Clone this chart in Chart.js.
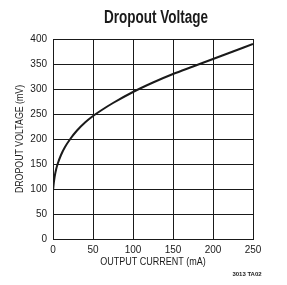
<!DOCTYPE html>
<html>
<head>
<meta charset="utf-8">
<script src="https://cdn.jsdelivr.net/npm/chart.js@4"></script>
<style>
  html, body { margin: 0; padding: 0; background: #fff; }
  #wrap { width: 287px; height: 285px; position: relative; }
</style>
</head>
<body>
<div id="wrap"><canvas id="chart" width="287" height="285"></canvas></div>
<script>
// Data
const currentMA = [0, 1, 2, 4, 6, 10, 15, 22, 30, 40, 50, 60, 75, 100, 125, 150, 175, 200, 225, 250];
const dropoutMV = [96, 112, 124, 140, 151, 168, 184, 201, 217, 233, 246, 257, 272, 294, 313, 330, 345, 360, 375, 390];
const xTicks = [0, 50, 100, 150, 200, 250];
const yTicks = [0, 50, 100, 150, 200, 250, 300, 350, 400];

const FONT = "'Liberation Sans', Arial, sans-serif";
const INK = '#1a1a1a';

// draws condensed text (no narrow font installed)
function squeezed(ctx, text, x, y, sx, rot) {
    ctx.save();
    ctx.translate(x, y);
    if (rot) ctx.rotate(rot);
    ctx.scale(sx, 1);
    ctx.fillText(text, 0, 0);
    ctx.restore();
}

// title, axis titles and footnote drawn on top
const textPlugin = {
    id: 'texts',
    afterDraw(chart) {
        const ctx = chart.ctx;
        const a = chart.chartArea;
        ctx.save();
        ctx.fillStyle = INK;
        ctx.textAlign = 'center';
        ctx.textBaseline = 'middle';
        ctx.font = "bold 18px " + FONT;
        squeezed(ctx, 'Dropout Voltage', 156, 18, 0.75);
        ctx.font = "11px " + FONT;
        squeezed(ctx, 'OUTPUT CURRENT (mA)', (a.left + a.right) / 2, 262, 0.82);
        squeezed(ctx, 'DROPOUT VOLTAGE (mV)', 20, (a.top + a.bottom) / 2, 0.8, -Math.PI / 2);
        ctx.font = "bold 6px " + FONT;
        ctx.fillText('3013 TA02', 247, 274);
        ctx.restore();
    }
};

new Chart(document.getElementById('chart'), {
    type: 'line',
    data: {
        labels: currentMA,
        datasets: [{
            data: currentMA.map((x, i) => ({ x: x, y: dropoutMV[i] })),
            borderColor: INK,
            borderWidth: 2,
            pointRadius: 0,
            cubicInterpolationMode: 'monotone',
            fill: false
        }]
    },
    options: {
        responsive: false,
        animation: false,
        layout: { padding: { left: 0, right: 34, top: 39, bottom: 14 } },
        plugins: { legend: { display: false }, tooltip: { enabled: false } },
        scales: {
            x: {
                type: 'linear',
                min: 0, max: 250,
                afterBuildTicks: s => { s.ticks = xTicks.map(v => ({ value: v })); },
                afterFit: s => { s.height = 32; },
                grid: { color: INK, lineWidth: 1, drawTicks: false },
                border: { color: INK, width: 1 },
                ticks: { color: INK, padding: 5, maxRotation: 0, font: { family: FONT, size: 10 } }
            },
            y: {
                min: 0, max: 400,
                afterBuildTicks: s => { s.ticks = yTicks.map(v => ({ value: v })); },
                afterFit: s => { s.width = 53; },
                grid: { color: INK, lineWidth: 1, drawTicks: false },
                border: { color: INK, width: 1 },
                ticks: { color: INK, padding: 6, font: { family: FONT, size: 10 } }
            }
        }
    },
    plugins: [textPlugin]
});
</script>
</body>
</html>
